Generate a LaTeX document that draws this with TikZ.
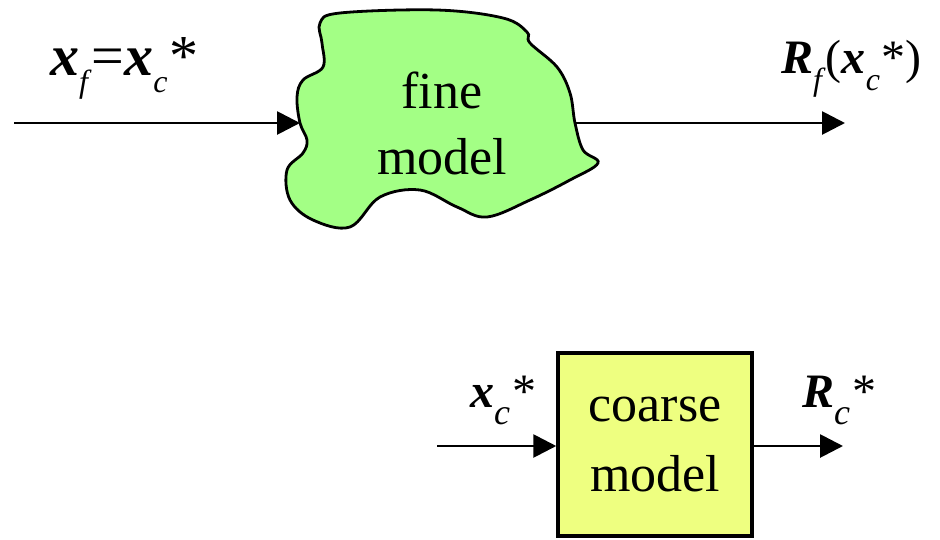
\documentclass[tikz,border=0pt]{standalone}
\usepackage{fontspec}
\setmainfont{Liberation Serif}
\usetikzlibrary{arrows.meta}
\newcommand\bv[1]{\textbf{\textit{#1}}}
\newcommand\sbs[2][32]{\raisebox{-17pt}{\fontsize{#1}{#1}\selectfont\textit{#2}}}
\begin{document}
\begin{tikzpicture}[x=1pt,y=-1pt,
  conn/.style={line width=2.8pt,-{Triangle[length=23pt,width=23pt]}},
  lbl/.style={anchor=base west,inner sep=0pt},
  bodytxt/.style={font=\fontsize{52}{66}\selectfont,align=center,inner sep=0pt}]
\useasboundingbox (0,0) rectangle (940,539);
% fine model blob
\draw[line width=2.8pt,fill={rgb,255:red,163;green,255;blue,133}]
  plot[smooth cycle,tension=0.6] coordinates {
  (320,23) (340,13) (437,10) (503,18) (527,32) (530,43) (557,67) (570,93)
  (575,123) (583,150) (598,163) (570,180) (530,200) (487,217) (457,207)
  (420,190) (380,197) (350,227) (313,220) (290,200) (287,170) (303,153)
  (307,140) (300,123) (297,97) (303,80) (323,67) (322,43)};
\node[bodytxt] (fine) at (442,123) {fine\\model};
\coordinate (fineL) at (300,123);
\coordinate (fineR) at (575,123);
\coordinate (inF) at (14,123);
\coordinate (outF) at (845,123);
\draw[conn] (inF) -- (fineL);
\draw[conn] (fineR) -- (outF);
% coarse model
\node[draw,line width=3.5pt,fill={rgb,255:red,238;green,255;blue,128},
  minimum width=194pt,minimum height=183pt,inner sep=0pt,
  font=\fontsize{52}{70}\selectfont,align=center] (coarse) at (655,444.5) {coarse\\model};
\coordinate (inC) at (437,446);
\coordinate (outC) at (843,446);
\draw[conn] (inC) -- (coarse.west |- inC);
\draw[conn] (coarse.east |- outC) -- (outC);
% labels
\node[lbl,font=\fontsize{58}{58}\selectfont] (lx) at (50,75)
  {\bv{x}\sbs{f}=\bv{x}\sbs{c}\hspace{2pt}*};
\node[lbl,font=\fontsize{48}{48}\selectfont] (lr) at (781,73)
  {\bv{R}\sbs{f}(\bv{x}\sbs{c}\hspace{2pt}*)};
\node[lbl,font=\fontsize{48}{48}\selectfont] (lxc) at (470,407)
  {\bv{x}\sbs[36]{c}\hspace{2pt}*};
\node[lbl,font=\fontsize{48}{48}\selectfont] (lrc) at (802,407)
  {\bv{R}\sbs[36]{c}\hspace{2pt}*};
\end{tikzpicture}
\end{document}
